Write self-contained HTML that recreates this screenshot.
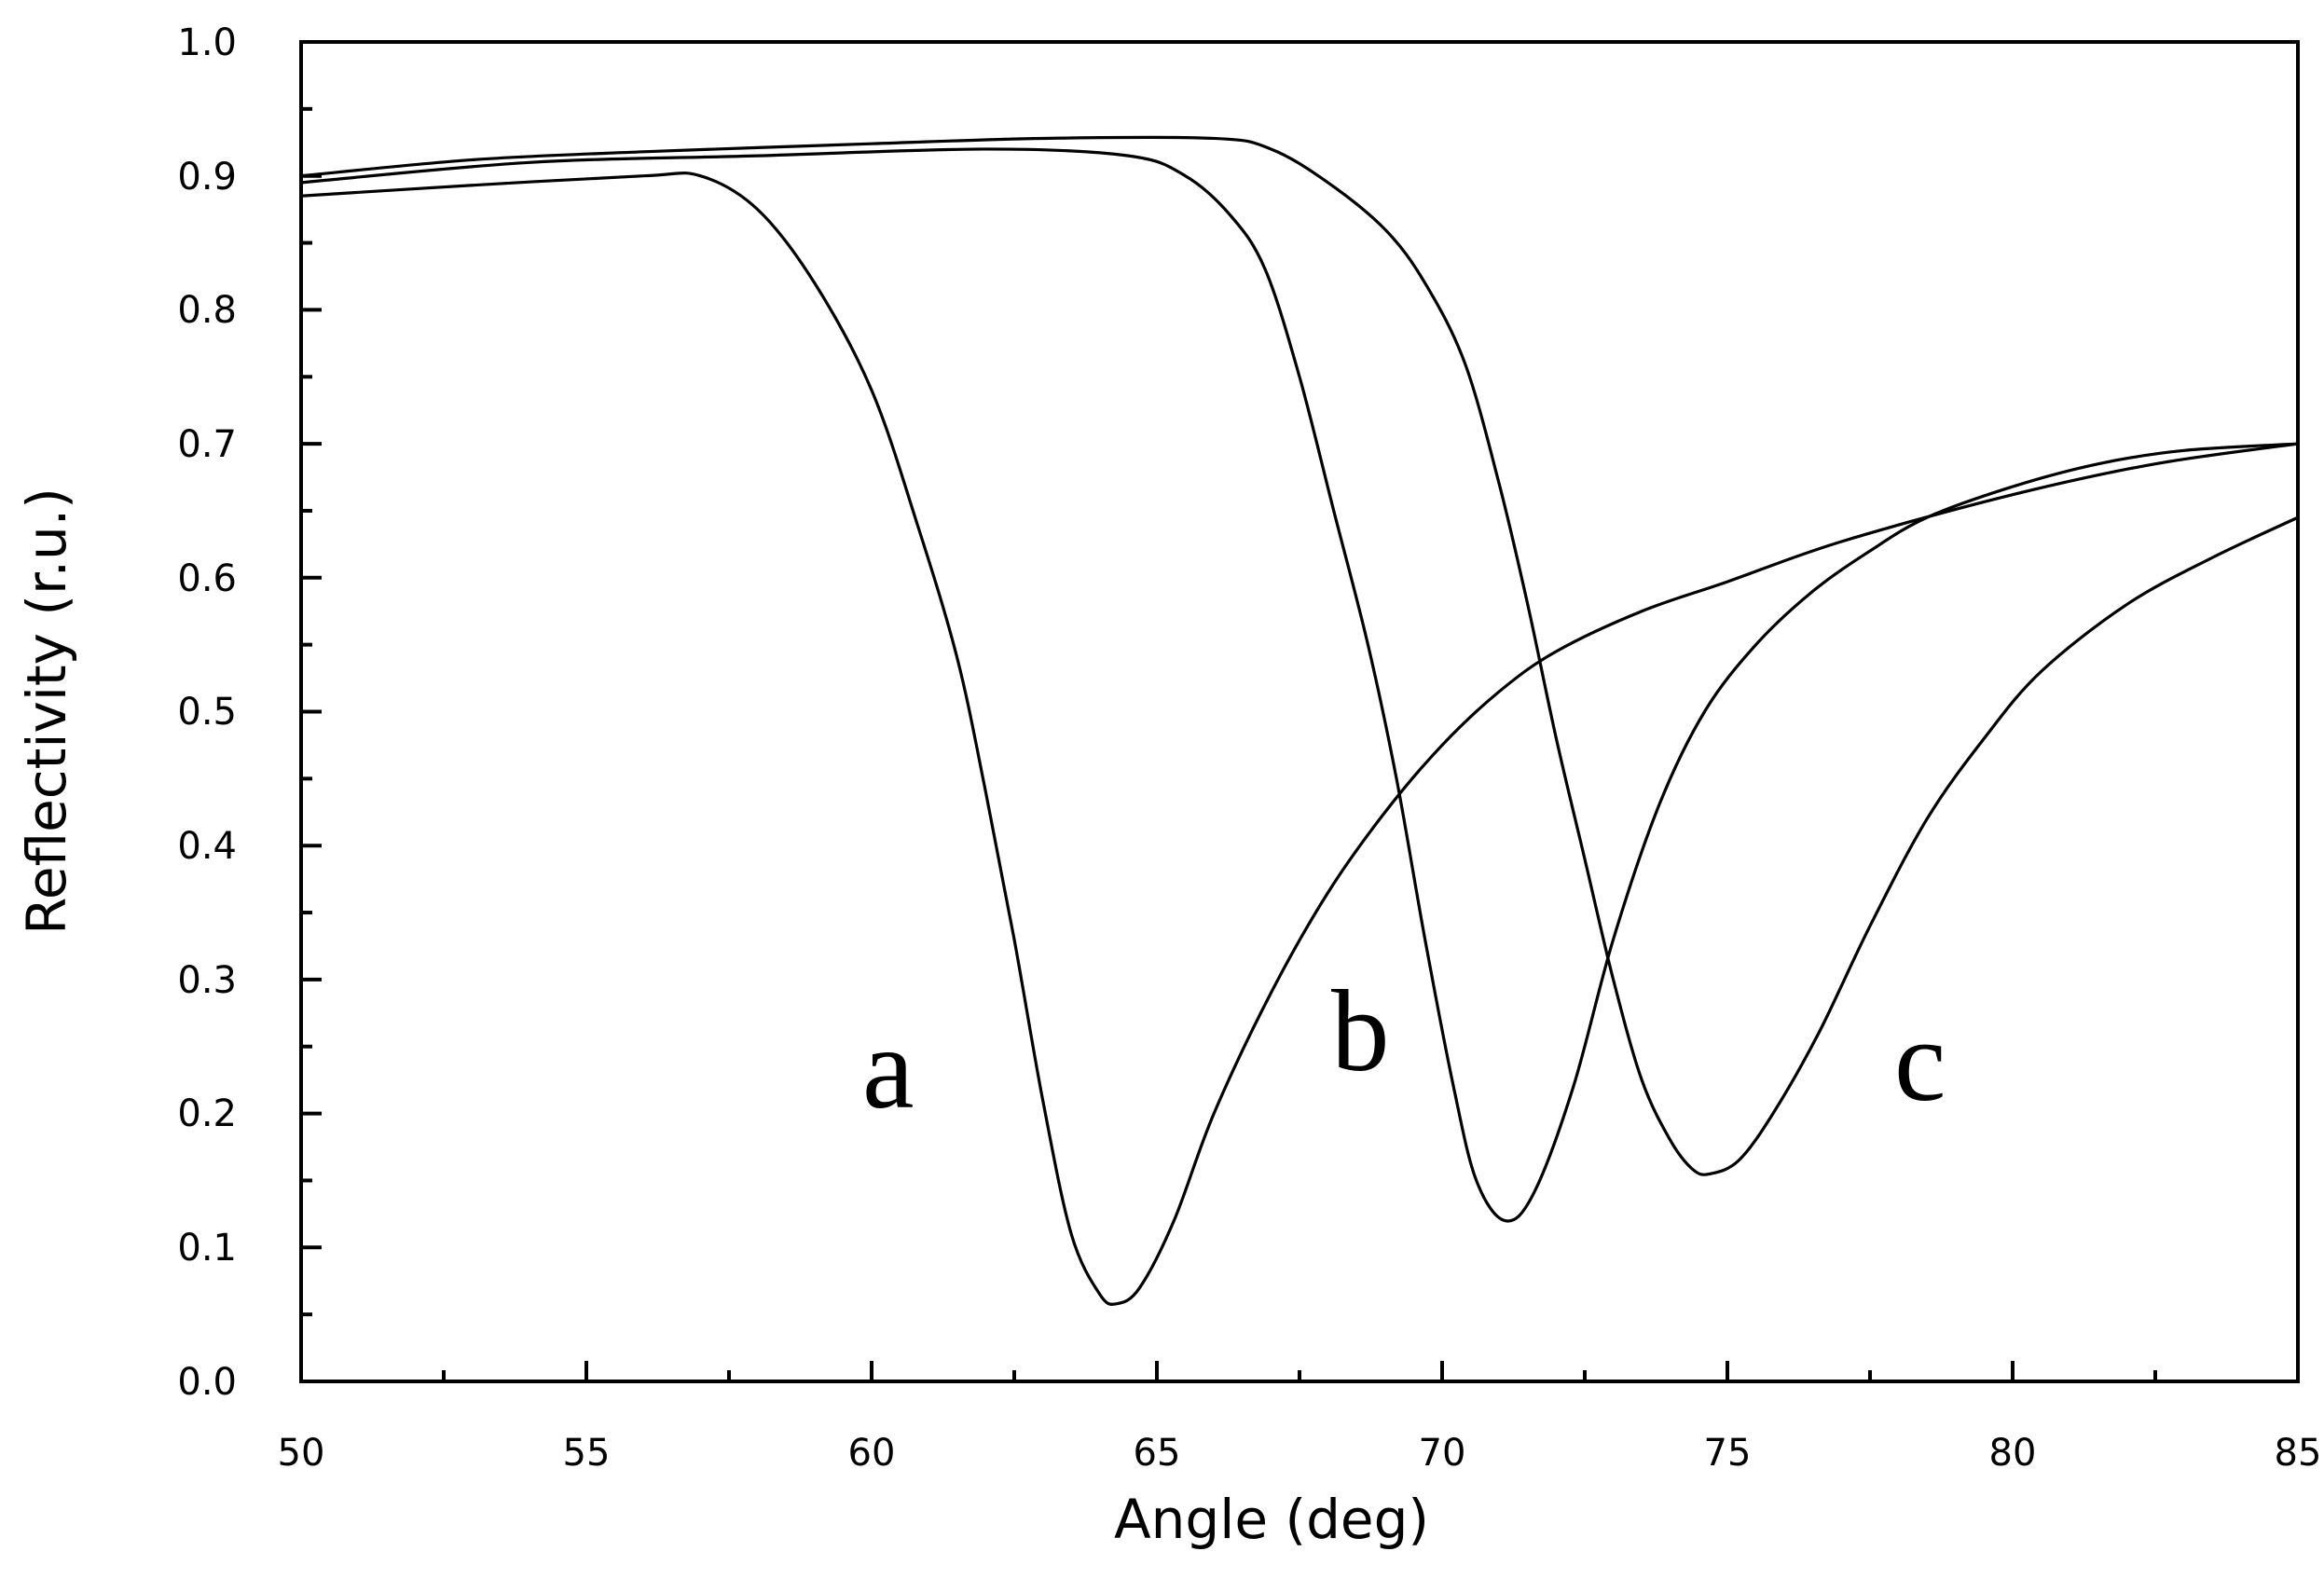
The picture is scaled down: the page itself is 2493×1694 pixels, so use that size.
<!DOCTYPE html>
<html><head><meta charset="utf-8"><style>
html,body{margin:0;padding:0;background:#fff;}
svg{display:block;}
text{font-family:"DejaVu Sans","Liberation Sans",sans-serif;fill:#000;}
text.serif{font-family:"Liberation Serif",serif;}
</style></head><body>
<svg id="s" width="2493" height="1694" viewBox="0 0 2493 1694" xmlns="http://www.w3.org/2000/svg">
<rect width="2493" height="1694" fill="#fff"/>
<g id="ticks" stroke="#000" stroke-width="4"></g>
<rect x="323" y="45" width="2142" height="1437" fill="none" stroke="#000" stroke-width="4"/>
<g id="curves" fill="none" stroke="#000" stroke-width="3.2" stroke-linejoin="round"></g>
<g font-size="40" text-anchor="end" id="ylab">
<text x="254" y="59">1.0</text><text x="254" y="203">0.9</text><text x="254" y="346">0.8</text><text x="254" y="490">0.7</text><text x="254" y="634">0.6</text><text x="254" y="777">0.5</text><text x="254" y="921">0.4</text><text x="254" y="1065">0.3</text><text x="254" y="1208">0.2</text><text x="254" y="1352">0.1</text><text x="254" y="1496">0.0</text>
</g>
<g font-size="40" text-anchor="middle">
<text x="323" y="1572">50</text><text x="629" y="1572">55</text><text x="935" y="1572">60</text><text x="1241" y="1572">65</text><text x="1547" y="1572">70</text><text x="1853" y="1572">75</text><text x="2159" y="1572">80</text><text x="2465" y="1572">85</text>
</g>
<text x="1364" y="1650" font-size="58" text-anchor="middle">Angle (deg)</text>
<text transform="translate(70,763) rotate(-90)" font-size="58" text-anchor="middle">Reflectivity (r.u.)</text>
<text class="serif" x="925" y="1188" font-size="125">a</text>
<text class="serif" x="1428" y="1148" font-size="125">b</text>
<text class="serif" x="2032" y="1180" font-size="125">c</text>
</svg>
<script>
var X=function(x){return 323+(x-50)*2142/35;},Y=function(y){return 1482-1437*y;};
var t=document.getElementById('ticks'),h='';
for(var i=0;i<=14;i++){var x=X(50+i*2.5),L=(i%2==0)?22:12;h+='<line x1="'+x+'" y1="1482" x2="'+x+'" y2="'+(1482-L)+'"/>';}
for(var j=0;j<=20;j++){var y=Y(j*0.05),L=(j%2==0)?22:12;h+='<line x1="323" y1="'+y+'" x2="'+(323+L)+'" y2="'+y+'"/>';}
t.innerHTML=h;
var A=[[50,.885],[53,.893],[56,.9],[57,.9],[58,.875],[59,.82],[60,.74],[60.8,.64],[61.5,.54],[62,.44],[62.5,.33],[63,.21],[63.5,.11],[64,.065],[64.3,.058],[64.7,.07],[65.3,.12],[66,.2],[67,.29],[68,.365],[69,.425],[70,.475],[71,.515],[72,.545],[73.5,.575],[75,.597],[77,.627],[80,.662],[82.5,.685],[85,.7]];
var B=[[50,.895],[54,.91],[58,.915],[62,.92],[64.5,.915],[65.5,.9],[66.3,.87],[66.9,.83],[67.5,.75],[68.1,.65],[68.7,.55],[69.2,.45],[69.7,.33],[70.2,.22],[70.6,.15],[71.1,.12],[71.6,.14],[72.3,.22],[73,.33],[73.8,.43],[74.6,.5],[75.5,.55],[76.5,.59],[77.5,.62],[78.5,.645],[80,.668],[81.5,.685],[83,.695],[85,.7]];
var C=[[50,.9],[53,.912],[56,.918],[60,.924],[63,.928],[66,.928],[67,.92],[68,.895],[69,.86],[69.7,.82],[70.4,.76],[71,.67],[71.5,.58],[72,.48],[72.5,.39],[73,.3],[73.5,.225],[74,.18],[74.4,.158],[74.7,.155],[75.2,.165],[75.8,.2],[76.6,.26],[77.5,.34],[78.5,.42],[79.5,.48],[80.5,.53],[82,.58],[83.5,.615],[85,.645]];
function path(P){var p=P.map(function(q){return [X(q[0]),Y(q[1])];}),d='M'+p[0][0]+','+p[0][1];
for(var i=0;i<p.length-1;i++){var p0=p[i-1]||p[i],p1=p[i],p2=p[i+1],p3=p[i+2]||p2;
d+=' C'+(p1[0]+(p2[0]-p0[0])/6)+','+(p1[1]+(p2[1]-p0[1])/6)+' '+(p2[0]-(p3[0]-p1[0])/6)+','+(p2[1]-(p3[1]-p1[1])/6)+' '+p2[0]+','+p2[1];}
return '<path d="'+d+'"/>';}
document.getElementById('curves').innerHTML=path(A)+path(B)+path(C);
</script>
</body></html>
